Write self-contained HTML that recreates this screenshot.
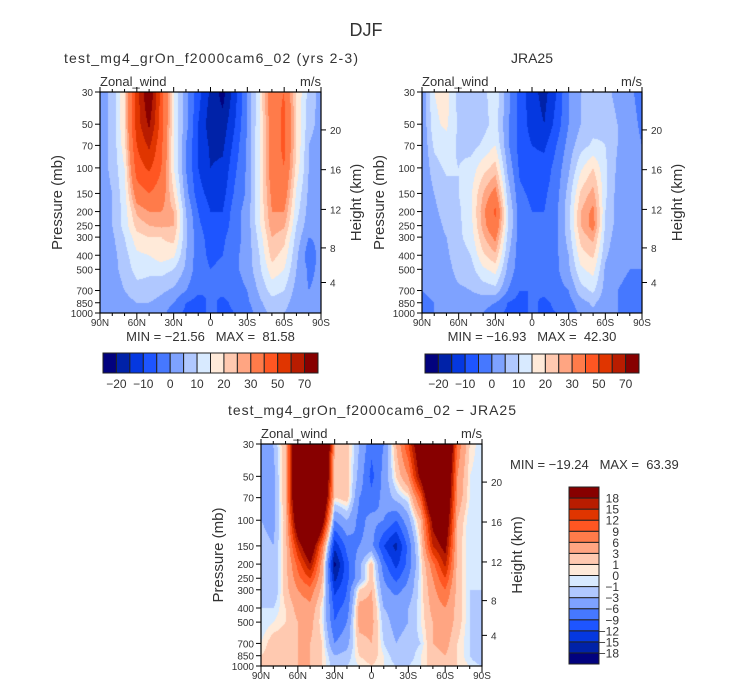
<!DOCTYPE html>
<html><head><meta charset="utf-8">
<style>
html,body{margin:0;padding:0;background:#fff;}
#wrap{position:relative;width:732px;height:690px;overflow:hidden;font-family:"Liberation Sans",sans-serif;}
canvas{position:absolute;left:0;top:0;}
svg{position:absolute;left:0;top:0;}
text{font-family:"Liberation Sans",sans-serif;fill:#333;white-space:pre;}
</style></head>
<body>
<div id="wrap">
<canvas id="cv" width="732" height="690"></canvas>
<svg id="sv" width="732" height="690" xmlns="http://www.w3.org/2000/svg">
<text x="366" y="36" font-size="18" text-anchor="middle">DJF</text>
</svg>
</div>
<script>
// ---- data ----
const lats = [90,80,70,60,50,40,30,20,10,0,-10,-20,-30,-40,-50,-60,-70,-80,-90];
const levels = [30,50,70,100,150,200,250,300,400,500,700,850,1000];
const pressureTicks = [30,50,70,100,150,200,250,300,400,500,700,850,1000];
const heightTicks = [4,8,12,16,20];
const latTickLabels = ["90N","60N","30N","0","30S","60S","90S"];
const latTicks = [90,60,30,0,-30,-60,-90];
const absLevels = [-20,-15,-10,-5,0,5,10,15,20,25,30,40,50,60,70];
const absLabels = ["-20","-10","0","10","20","30","50","70"];
const difLevels = [-18,-15,-12,-9,-6,-3,-1,0,1,3,6,9,12,15,18];
const difLabels = ["-18","-15","-12","-9","-6","-3","-1","0","1","3","6","9","12","15","18"];
const colors = ["#02027e","#0022a8","#0538e0","#1e55ff","#4678ff","#7ea2ff","#b0c8ff","#d8eaff","#ffead9","#ffc9b0","#ffa582","#ff7b4a","#ff5622","#e03500","#b81c00","#870000"];

const modelU = [
[3, 6, 20, 55, 82, 45, 15, 2, -8, -16, -22, -12, 0, 15, 38, 40, 20, 8, 3],
[3, 6, 20, 55, 72, 45, 15, 2, -10, -18, -18, -10, 0, 15, 35, 42, 20, 7, 3],
[3, 6, 18, 50, 62, 42, 15, 0, -10, -16, -16, -8, 1, 15, 35, 42, 20, 5, 2],
[3, 6, 15, 45, 52, 40, 15, 0, -10, -15, -14, -6, 1, 15, 35, 40, 18, 5, 2],
[3, 5, 13, 35, 40, 35, 20, 2, -8, -12, -12, -4, 1, 15, 32, 35, 14, 4, 2],
[3, 5, 12, 26, 30, 30, 25, 5, -5, -10, -10, -2, 2, 15, 30, 30, 12, 3, 2],
[3, 5, 12, 22, 25, 26, 25, 6, -4, -8, -8, -2, 2, 14, 28, 26, 10, 2, 1],
[3, 4, 10, 18, 20, 20, 22, 6, -3, -7, -6, -2, 2, 12, 25, 22, 8, 0, 1],
[2, 3, 8, 14, 15, 18, 16, 5, -3, -6, -5, -1, 2, 10, 22, 18, 6, -3, 2],
[2, 3, 7, 12, 11, 12, 10, 4, -3, -5, -4, -1, 2, 9, 18, 15, 5, -1, 1],
[1, 2, 5, 8, 8, 6, 4, 0, -4, -5, -4, -2, 0, 6, 12, 10, 3, 0, 1],
[0, 1, 3, 5, 5, 3, 0, -5, -7, -4, -6, -4, -1, 4, 8, 7, 2, 1, 2],
[0, 0, 2, 3, 3, 2, -3, -6, -7, -4, -6, -5, -3, 3, 6, 5, 1, 0, 0]];

const jraU = [
[0, 15, 17, 8, 5, 8, 14, 2, -7, -13, -17, -10, 0, 5, 7, 7, 3, 1, -2],
[0, 14, 16, 9, 6, 8, 12, 1, -7, -12, -15, -8, 0, 5, 8, 9, 5, 2, -1],
[0, 11, 13, 9, 8, 11, 15, 1, -7, -10, -11, -5, 2, 8, 11, 10, 5, 2, 0],
[0, 8, 11, 10, 12, 18, 22, 4, -6, -8, -8, -3, 4, 14, 20, 11, 4, 1, 0],
[0, 5, 8, 10, 14, 25, 33, 8, -4, -6, -6, -2, 7, 21, 27, 11, 3, 1, 0],
[0, 4, 7, 9, 14, 28, 42, 11, -3, -5, -5, -1, 8, 25, 32, 10, 3, 1, 0],
[0, 3, 6, 9, 13, 27, 38, 11, -3, -5, -4, -1, 8, 25, 33, 9, 3, 1, 0],
[0, 3, 5, 9, 12, 24, 32, 9, -3, -5, -4, -1, 7, 22, 27, 8, 2, 1, 0],
[0, 2, 4, 8, 10, 19, 24, 6, -3, -5, -3, -1, 5, 18, 21, 6, 1, 0, 0],
[0, 1, 3, 7, 8, 14, 17, 4, -3, -5, -3, -1, 4, 14, 17, 4, 1, 0, 0],
[0, 1, 2, 4, 5, 7, 8, 0, -5, -5, -4, -2, 0, 8, 11, 3, 0, -1, 0],
[-1, 0, 1, 2, 2, 2, 0, -5, -7, -4, -6, -4, -2, 3, 6, 2, 0, -1, 0],
[-1, 0, 0, 1, 1, 0, -3, -6, -7, -4, -6, -5, -3, 1, 4, 2, 0, -1, -1]];

const diffU = [
[-3, -3, 3, 30, 60, 40, 3, 2, -3, -8, -6, 3, 12, 25, 40, 35, 8, 1, -1],
[-3, -4, 3, 30, 55, 35, 2, 2, -4, -10, -5, 1, 6, 20, 35, 30, 6, 0, -1],
[-3, -4, 3, 30, 50, 30, 1, 2, -6, -8, -5, -2, 0, 10, 30, 28, 5, 0, 0],
[-3, -4, 2, 25, 45, 22, -6, -3, -7, -5, -6, -9, -4, 3, 20, 25, 3, -1, -1],
[-2, -3, 2, 15, 25, 8, -14, -8, -6, -5, -12, -16, -8, 1, 15, 20, 2, -1, -1],
[-2, -3, 2, 10, 18, 4, -19, -10, -4, 2, -8, -13, -8, 0, 8, 16, 2, -1, -1],
[-2, -3, 2, 8, 12, 3, -16, -10, -4, 2, -6, -10, -6, 0, 6, 12, 2, -1, -1],
[-2, -3, 2, 6, 8, 2, -13, -9, 1, 3, -5, -7, -5, 0, 5, 9, 2, -1, -1],
[-1, -1, 1, 4, 5, 0, -10, -8, 4, 4, -3, -4, -3, 0, 4, 6, 2, -1, -2],
[-1, 0, 1, 3, 4, 0, -9, -6, 4, 4, -2, -4, -3, 0, 3, 5, 2, -1, -2],
[0, 2, 2, 3, 3, 1, -6, -4, 2, 3, -1, -3, -2, -1, 3, 4, 1, -1, -3],
[1, 2, 2, 3, 3, 1, -3, -2, 1, 2, 0, -2, -2, 0, 2, 3, 1, -1, -3],
[1, 1, 2, 3, 3, 1, -2, -1, 0, 1, 0, -1, -1, 0, 2, 3, 1, 0, -1]];

const panels = [
 {x0:100,x1:321,y0:92,y1:313,field:modelU,lev:absLevels,title:"test_mg4_grOn_f2000cam6_02 (yrs 2-3)",tx:211,tl:294,minmax:"MIN = \u221221.56   MAX =  81.58",name:"model-panel"},
 {x0:422,x1:642,y0:92,y1:313,field:jraU,lev:absLevels,title:"JRA25",tx:532,tl:0,minmax:"MIN = \u221216.93   MAX =  42.30",name:"jra25-panel"},
 {x0:261,x1:482,y0:444,y1:666,field:diffU,lev:difLevels,title:"test_mg4_grOn_f2000cam6_02 \u2212 JRA25",tx:372,tl:288,minmax:null,name:"difference-panel"}
];

// ---- axis functions ----
function xOf(p,lat){return p.x0+(90-lat)/180*(p.x1-p.x0);}
function yOf(p,pr){return p.y0+(Math.log(pr)-Math.log(30))/(Math.log(1000)-Math.log(30))*(p.y1-p.y0);}
function pOfZ(zkm){const z=zkm*1000; if(z<=11000) return 1013.25*Math.pow(1-2.25577e-5*z,5.25588); return 226.32*Math.exp(-(z-11000)/6341.6);}
function colorIdx(v,lev){let i=0;while(i<lev.length&&v>=lev[i])i++;return i;}
function sample(field,lat,pr){
  const fc=(90-lat)/10; let c=Math.floor(fc); if(c>=lats.length-1)c=lats.length-2; if(c<0)c=0; const tc=fc-c;
  const lp=Math.log(pr); let r=0; while(r<levels.length-2&&Math.log(levels[r+1])<lp)r++;
  const tr=(lp-Math.log(levels[r]))/(Math.log(levels[r+1])-Math.log(levels[r]));
  const a=field[r][c]*(1-tc)+field[r][c+1]*tc, b=field[r+1][c]*(1-tc)+field[r+1][c+1]*tc;
  return a*(1-tr)+b*tr;
}
function hex(h){return [parseInt(h.substr(1,2),16),parseInt(h.substr(3,2),16),parseInt(h.substr(5,2),16)];}
const rgb=colors.map(hex);

// ---- fields ----
const ctx=document.getElementById('cv').getContext('2d');
const img=ctx.createImageData(732,690);
for(const p of panels){
  for(let py=p.y0;py<p.y1;py++){
    const fy=(py+0.5-p.y0)/(p.y1-p.y0);
    const pr=Math.exp(Math.log(30)+fy*(Math.log(1000)-Math.log(30)));
    for(let px=p.x0;px<p.x1;px++){
      const lat=90-(px+0.5-p.x0)/(p.x1-p.x0)*180;
      const v=sample(p.field,lat,pr);
      const c=rgb[colorIdx(v,p.lev)];
      const k=(py*732+px)*4; img.data[k]=c[0];img.data[k+1]=c[1];img.data[k+2]=c[2];img.data[k+3]=255;
    }
  }
}
ctx.putImageData(img,0,0);

// ---- overlay ----
const NS="http://www.w3.org/2000/svg";
const sv=document.getElementById('sv');
function mk(tag,attrs,txt){const e=document.createElementNS(NS,tag);for(const k in attrs)e.setAttribute(k,attrs[k]);if(txt!==undefined)e.textContent=txt;sv.appendChild(e);return e;}
function minus(s){return s.replace('-','\u2212');}

panels.forEach(function(p){
  let e=mk('rect',{x:p.x0,y:p.y0,width:p.x1-p.x0,height:p.y1-p.y0,fill:'none',stroke:'#000','stroke-width':1.2});
  
  
  const ta={x:p.tx,y:p.y0-29,'font-size':14,'text-anchor':'middle'}; if(p.tl)ta.textLength=p.tl;
  e=mk('text',ta,p.title);
  
  
  e=mk('text',{x:p.x0,y:p.y0-6,'font-size':13},'Zonal_wind');
  
  
  e=mk('text',{x:p.x1,y:p.y0-6,'font-size':13,'text-anchor':'end'},'m/s');
  
  
  pressureTicks.forEach(function(pr){
    const y=yOf(p,pr);
    let t=mk('line',{x1:p.x0-5,x2:p.x0,y1:y,y2:y,stroke:'#000'});
    
    
    t=mk('text',{x:p.x0-7,y:y+4,'font-size':10,'text-anchor':'end'},String(pr));
    
    
  });
  e=mk('text',{x:0,y:0,'font-size':15,'text-anchor':'middle',transform:'translate('+(p.x0-38)+','+((p.y0+p.y1)/2)+') rotate(-90)'},'Pressure (mb)');
  
  
  heightTicks.forEach(function(z){
    const y=yOf(p,pOfZ(z));
    let t=mk('line',{x1:p.x1,x2:p.x1+5,y1:y,y2:y,stroke:'#000'});
    
    
    t=mk('text',{x:p.x1+9,y:y+4,'font-size':10},String(z));
    
    
  });
  e=mk('text',{x:0,y:0,'font-size':15,'text-anchor':'middle',transform:'translate('+(p.x1+40)+','+((p.y0+p.y1)/2)+') rotate(-90)'},'Height (km)');
  
  
  for(let lat=90;lat>=-90;lat-=10){
    const x=xOf(p,lat), major=(lat%30===0);
    let t=mk('line',{x1:x,x2:x,y1:p.y1,y2:p.y1+(major?6:3),stroke:'#000'});
    
    
    t=mk('line',{x1:x,x2:x,y1:p.y0,y2:p.y0-(major?5:3),stroke:'#000'});
    
    
  }
  latTicks.forEach(function(lat,i){
    const t=mk('text',{x:xOf(p,lat),y:p.y1+13,'font-size':10,'text-anchor':'middle'},latTickLabels[i]);
    
    
  });
  if(p.minmax){
    e=mk('text',{x:(p.x0+p.x1)/2,y:p.y1+28,'font-size':13,'text-anchor':'middle'},p.minmax);
    
    
  }
});

[{x0:103,x1:318,y0:353,y1:373},{x0:425,x1:639,y0:354,y1:373}].forEach(function(cb,ci){
  const w=(cb.x1-cb.x0)/colors.length;
  colors.forEach(function(c,i){
    const r=mk('rect',{x:cb.x0+i*w,y:cb.y0,width:w,height:cb.y1-cb.y0,fill:c,stroke:'#222','stroke-width':1});
    
    
  });
  absLabels.forEach(function(l,i){
    const t=mk('text',{x:cb.x0+(1+2*i)*w,y:cb.y1+15,'font-size':12,'text-anchor':'middle'},minus(l));
    
    
  });
});
(function(){
  const x0=569,x1=599,y0=487,y1=664,h=(y1-y0)/colors.length;
  colors.forEach(function(c,i){
    const r=mk('rect',{x:x0,y:y1-(i+1)*h,width:x1-x0,height:h,fill:c,stroke:'#222','stroke-width':1});
    
    
  });
  difLevels.forEach(function(v,i){
    const t=mk('text',{x:619,y:y1-(i+1)*h+4.5,'font-size':12,'text-anchor':'end'},minus(difLabels[i]));
    
    
  });
  const t=mk('text',{x:510,y:469,'font-size':13},'MIN = \u221219.24   MAX =  63.39');
  
  
})();
</script>
</body></html>
